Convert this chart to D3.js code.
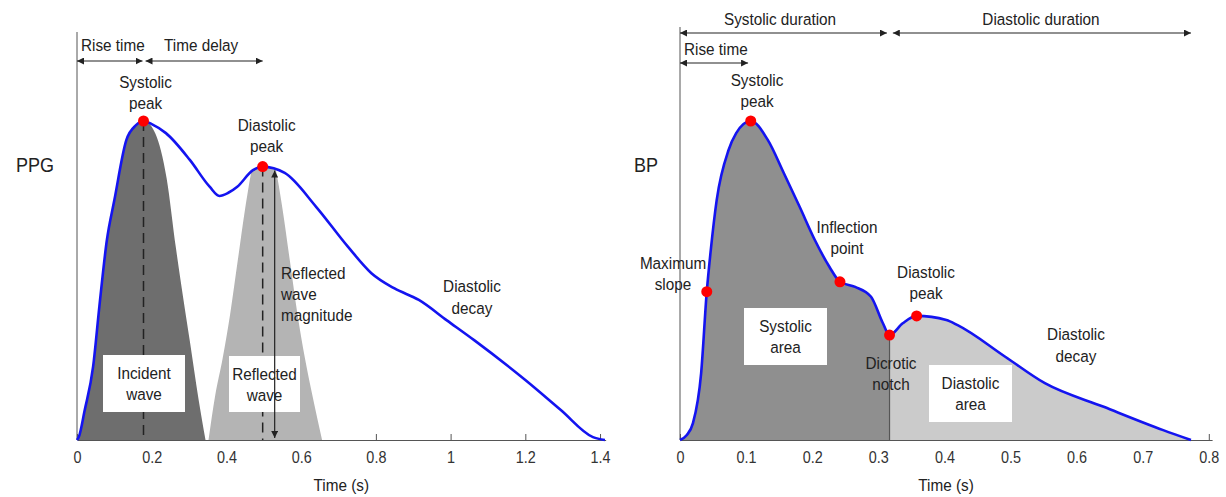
<!DOCTYPE html>
<html>
<head>
<meta charset="utf-8">
<script src="https://cdn.jsdelivr.net/npm/d3@7"></script>
<style>
  body { margin: 0; background: #fff; }
  svg { display: block; }
  text { font-family: "Liberation Sans", Arial, sans-serif; fill: #222; }
  .tick text { font-size: 16px; fill: #333; }
</style>
</head>
<body>
<svg id="chart" width="1226" height="497"></svg>
<script>
// PPG pulse (time in s, normalised amplitude)
const ppgTime  = [0, 0.005, 0.02, 0.043, 0.06, 0.08, 0.1, 0.132, 0.158, 0.178, 0.2, 0.238, 0.302, 0.355, 0.381, 0.405, 0.429, 0.471, 0.497, 0.556, 0.64, 0.725, 0.788, 0.85, 0.915, 0.99, 1.063, 1.2, 1.295, 1.381, 1.413]
const ppgValue = [0, 0.01, 0.09, 0.229, 0.42, 0.627, 0.752, 0.94, 0.987, 1.0, 0.99, 0.962, 0.878, 0.794, 0.765, 0.775, 0.794, 0.846, 0.857, 0.837, 0.731, 0.606, 0.523, 0.475, 0.439, 0.375, 0.313, 0.188, 0.094, 0.009, 0]
const incidentTime  = [0, 0.005, 0.04, 0.08, 0.13, 0.18, 0.21, 0.24, 0.265, 0.285, 0.302, 0.325, 0.344]
const incidentValue = [0, 0.05, 0.5, 0.85, 0.98, 1.0, 0.96, 0.82, 0.6, 0.44, 0.31, 0.13, 0]
const reflectedTime  = [0.352, 0.37, 0.39, 0.41, 0.43, 0.45, 0.47, 0.5, 0.53, 0.55, 0.57, 0.59, 0.61, 0.63, 0.656]
const reflectedValue = [0, 0.14, 0.257, 0.395, 0.56, 0.725, 0.86, 0.95, 0.86, 0.725, 0.56, 0.395, 0.257, 0.14, 0]
const ppgPeaks = [[0.178, 1.0], [0.497, 0.857]]
const ppgTicks = [0, 0.2, 0.4, 0.6, 0.8, 1, 1.2, 1.4]

// BP pulse
const bpTime  = [0, 0.01, 0.0196, 0.032, 0.0405, 0.0466, 0.0555, 0.0735, 0.085, 0.107, 0.133, 0.157, 0.181, 0.204, 0.226, 0.242, 0.265, 0.289, 0.307, 0.317, 0.337, 0.358, 0.403, 0.42, 0.492, 0.552, 0.641, 0.731, 0.773]
const bpValue = [0, 0.015, 0.053, 0.21, 0.465, 0.596, 0.752, 0.909, 0.962, 1.0, 0.94, 0.837, 0.731, 0.627, 0.543, 0.496, 0.48, 0.449, 0.366, 0.329, 0.366, 0.389, 0.376, 0.36, 0.261, 0.178, 0.104, 0.031, 0]
const bpPoints = [[0.0405, 0.465], [0.107, 1.0], [0.242, 0.496], [0.317, 0.329], [0.358, 0.389]]
const notchTime = 0.317
const bpTicks = [0, 0.1, 0.2, 0.3, 0.4, 0.5, 0.6, 0.7, 0.8]

const squeeze = 0.9 // the source figure is a little condensed horizontally

const svg = d3.select('#chart')
const defs = svg.append('defs')

defs.append('marker')
  .attr('id', 'arrow')
  .attr('viewBox', '0 -5 10 10')
  .attr('refX', 10).attr('refY', 0)
  .attr('markerWidth', 7).attr('markerHeight', 7)
  .attr('markerUnits', 'userSpaceOnUse')
  .attr('orient', 'auto-start-reverse')
  .append('path')
  .attr('d', 'M0,-5L10,0L0,5Z')
  .attr('fill', '#222')

const pts = (ts, vs) => ts.map((t, i) => [t, vs[i]])
const ppg = pts(ppgTime, ppgValue)
const bp = pts(bpTime, bpValue)

const y = d3.scaleLinear().domain([0, 1]).range([440, 121])
const xL = d3.scaleLinear().domain([0, 1.415]).range([77, 77 + 1.415 * 373.6])
const xR = d3.scaleLinear().domain([0, 0.805]).range([680, 680 + 0.805 * 661])

function label(g, x, y0, lines, anchor = 'middle', lh = 21, size = 17) {
  const t = g.append('g').attr('transform', `translate(${x},0) scale(${squeeze},1)`)
    .append('text').style('font-size', size + 'px').attr('text-anchor', anchor)
  lines.forEach((s, i) => t.append('tspan').attr('x', 0).attr('y', y0 + i * lh).text(s))
  return t
}

function drawAxis(g, x, ticks, top) {
  g.append('line')
    .attr('x1', x(0)).attr('x2', x(0))
    .attr('y1', top).attr('y2', y(0))
    .attr('stroke', '#555')
  const ax = g.append('g')
    .attr('transform', `translate(0,${y(0)})`)
    .call(d3.axisBottom(x).tickValues(ticks).tickFormat(d3.format('~g')).tickSizeInner(-6).tickSizeOuter(0).tickPadding(12))
  ax.select('.domain').attr('stroke', '#555')
  ax.selectAll('.tick line').attr('stroke', '#555')
  ax.selectAll('.tick text').attr('font-family', null).attr('font-size', null)
    .attr('transform', `scale(${squeeze},1)`)
  label(g, (x.range()[0] + x.range()[1]) / 2, 491, ['Time (s)'])
}

function boxLabel(g, x0, y0, w, h, lines) {
  g.append('rect').attr('x', x0).attr('y', y0).attr('width', w).attr('height', h).attr('fill', '#fff')
  label(g, x0 + w / 2, y0 + 24, lines)
}

function arrow(g, x1, x2, yy) {
  g.append('line')
    .attr('x1', x1).attr('x2', x2).attr('y1', yy).attr('y2', yy)
    .attr('stroke', '#222').attr('stroke-width', 1.2)
    .attr('marker-end', 'url(#arrow)')
    .attr('marker-start', 'url(#arrow)')
}

// ---- left: PPG ----
const gl = svg.append('g')
const lineL = d3.line().x(d => xL(d[0])).y(d => y(d[1])).curve(d3.curveMonotoneX)
const areaL = d3.area().x(d => xL(d[0])).y0(y(0)).y1(d => y(d[1])).curve(d3.curveMonotoneX)

defs.append('clipPath').attr('id', 'under-ppg')
  .append('path').attr('d', areaL(ppg))

drawAxis(gl, xL, ppgTicks, 32)

gl.append('path').attr('clip-path', 'url(#under-ppg)')
  .attr('d', areaL(pts(incidentTime, incidentValue))).attr('fill', '#6e6e6e')
gl.append('path').attr('clip-path', 'url(#under-ppg)')
  .attr('d', areaL(pts(reflectedTime, reflectedValue))).attr('fill', '#b4b4b4')

gl.selectAll('.peakline').data(ppgPeaks).join('line')
  .attr('x1', d => xL(d[0])).attr('x2', d => xL(d[0]))
  .attr('y1', d => y(d[1])).attr('y2', y(0))
  .attr('stroke', '#222').attr('stroke-width', 1.5).attr('stroke-dasharray', '10,6')

boxLabel(gl, 103, 355, 82, 57, ['Incident', 'wave'])
boxLabel(gl, 229, 356, 71, 56, ['Reflected', 'wave'])

// reflected wave magnitude
const magX = xL(ppgPeaks[1][0]) + 12
gl.append('line')
  .attr('x1', magX).attr('x2', magX).attr('y1', y(0) - 2).attr('y2', y(ppgPeaks[1][1]) + 4)
  .attr('stroke', '#222').attr('stroke-width', 1.2)
  .attr('marker-end', 'url(#arrow)').attr('marker-start', 'url(#arrow)')

gl.append('path').attr('d', lineL(ppg)).attr('fill', 'none').attr('stroke', '#1414f0').attr('stroke-width', 2.6)
gl.selectAll('.dot').data(ppgPeaks).join('circle')
  .attr('cx', d => xL(d[0])).attr('cy', d => y(d[1])).attr('r', 5.5).attr('fill', '#f00')

arrow(gl, xL(0), xL(ppgPeaks[0][0]) - 1, 61)
arrow(gl, xL(ppgPeaks[0][0]) + 2, xL(ppgPeaks[1][0]), 61)
label(gl, 81, 51, ['Rise time'], 'start')
label(gl, 164, 51, ['Time delay'], 'start')
label(gl, xL(ppgPeaks[0][0]) + 2, 88, ['Systolic', 'peak'])
label(gl, xL(ppgPeaks[1][0]) + 4, 131, ['Diastolic', 'peak'])
label(gl, 281, 279, ['Reflected', 'wave', 'magnitude'], 'start')
label(gl, 472, 292, ['Diastolic', 'decay'], 'middle', 22)
label(gl, 16, 172, ['PPG'], 'start', 21, 20)

// ---- right: BP ----
const gr = svg.append('g')
const lineR = d3.line().x(d => xR(d[0])).y(d => y(d[1])).curve(d3.curveMonotoneX)
const areaR = d3.area().x(d => xR(d[0])).y0(y(0)).y1(d => y(d[1])).curve(d3.curveMonotoneX)

drawAxis(gr, xR, bpTicks, 27)

gr.append('path').attr('d', areaR(bp.filter(d => d[0] <= notchTime))).attr('fill', '#8f8f8f')
gr.append('path').attr('d', areaR(bp.filter(d => d[0] >= notchTime))).attr('fill', '#cbcbcb')
gr.append('line')
  .attr('x1', xR(notchTime)).attr('x2', xR(notchTime))
  .attr('y1', y(bpPoints[3][1])).attr('y2', y(0))
  .attr('stroke', '#555').attr('stroke-width', 1.2)

boxLabel(gr, 744, 308, 83, 57, ['Systolic', 'area'])
boxLabel(gr, 929, 365, 83, 57, ['Diastolic', 'area'])

gr.append('path').attr('d', lineR(bp)).attr('fill', 'none').attr('stroke', '#1414f0').attr('stroke-width', 2.6)
gr.selectAll('.dot').data(bpPoints).join('circle')
  .attr('cx', d => xR(d[0])).attr('cy', d => y(d[1])).attr('r', 5.5).attr('fill', '#f00')

arrow(gr, xR(0), xR(0.313), 33)
arrow(gr, xR(0.322), xR(0.773), 33)
arrow(gr, xR(0), xR(0.103), 63)
label(gr, 780, 25, ['Systolic duration'])
label(gr, 1041, 25, ['Diastolic duration'])
label(gr, 684, 55, ['Rise time'], 'start')
label(gr, 757, 86, ['Systolic', 'peak'])
label(gr, 847, 233, ['Inflection', 'point'])
label(gr, 673, 269, ['Maximum', 'slope'])
label(gr, 926, 278, ['Diastolic', 'peak'])
label(gr, 891, 369, ['Dicrotic', 'notch'])
label(gr, 1076, 340, ['Diastolic', 'decay'], 'middle', 22)
label(gr, 634, 172, ['BP'], 'start', 21, 20)
</script>
</body>
</html>
